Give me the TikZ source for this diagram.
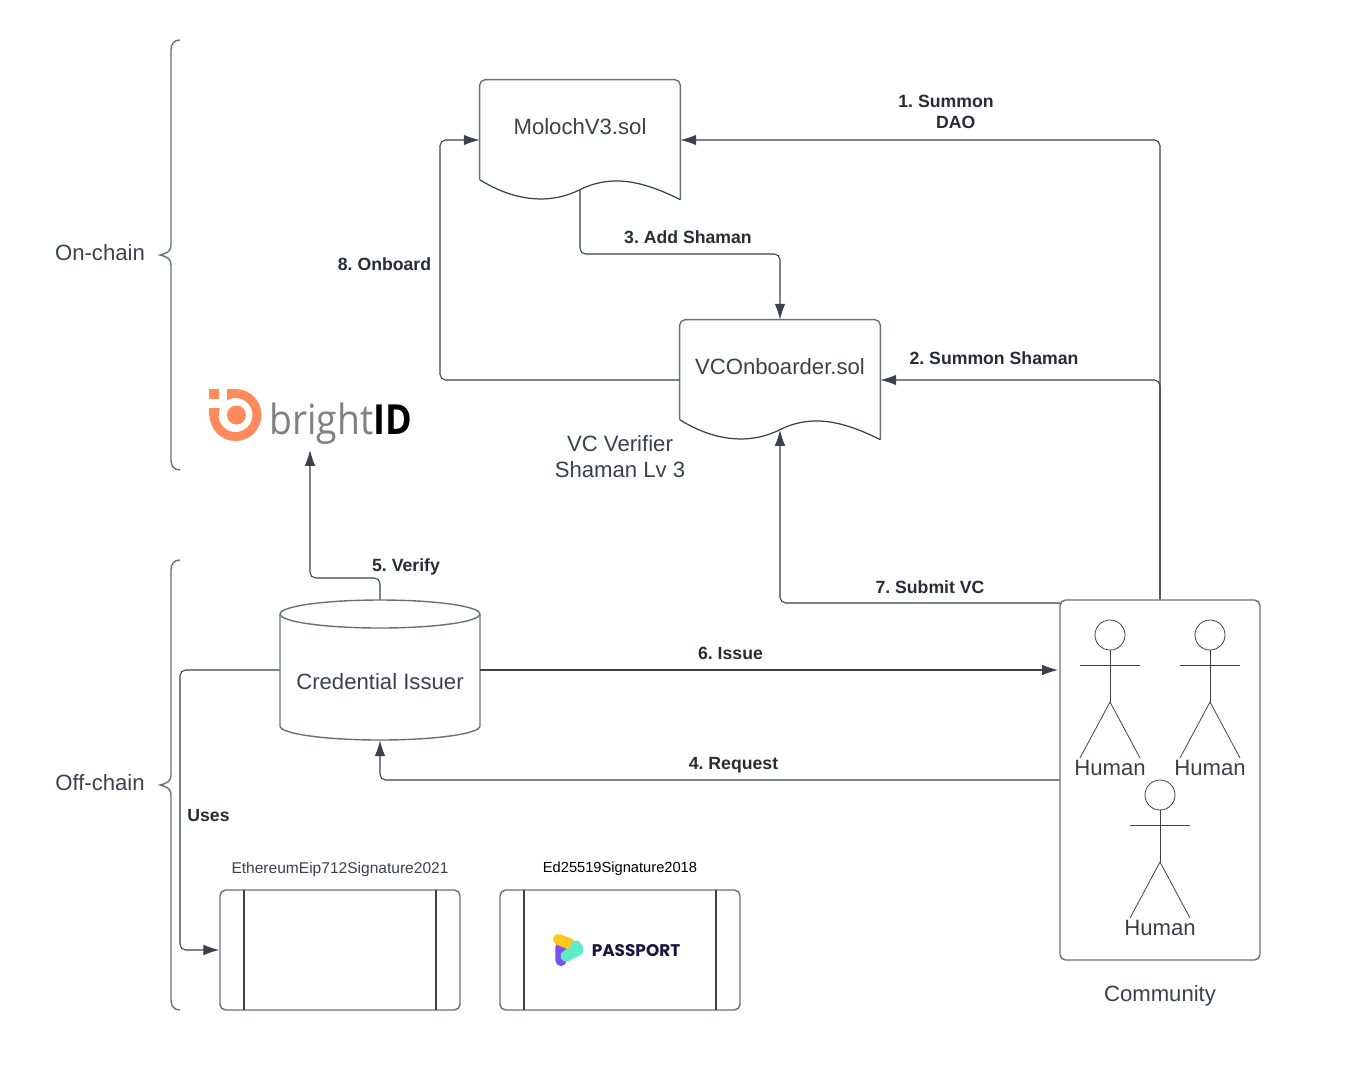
\documentclass[tikz,border=0pt]{standalone}
\usepackage{fontspec}
\setmainfont{Liberation Sans}
\newfontfamily\logofont[FakeStretch=0.9]{Open Sans}
\newfontfamily\logofontb[FakeStretch=0.87]{Open Sans}
\newfontfamily\passfont{Poppins}
\usetikzlibrary{arrows.meta}
\definecolor{ink}{HTML}{3A414A}
\definecolor{edge}{HTML}{6B7078}
\definecolor{dark}{HTML}{282C33}
\definecolor{brightorange}{HTML}{FF8A5E}
\definecolor{passyellow}{HTML}{FFC71E}
\definecolor{passpurple}{HTML}{7A50F0}
\definecolor{passgreen}{HTML}{5FEBC8}
\tikzset{
  box/.style={draw=edge,line width=0.8pt,rounded corners=3.2pt,inner sep=0pt},
  ghost/.style={inner sep=0pt},
  title/.style={inner sep=0pt,text=ink,font=\fontsize{12.6}{14.8}\selectfont,align=center},
  lab/.style={inner sep=0pt,text=dark,font=\fontsize{10.05}{12}\selectfont\bfseries,align=center},
  small/.style={inner sep=0pt,text=ink,font=\fontsize{8.85}{11}\selectfont},
  conn/.style={draw=ink,line width=0.6pt,rounded corners=3.2pt,-{Latex[length=9pt,width=6pt]}},
  plain/.style={draw=ink,line width=0.6pt},
  shapeline/.style={draw=edge,line width=0.8pt},
  stick/.style={draw=black!75,line width=0.45pt},
  passbar/.style={line width=6.4pt,line cap=round,line join=round},
}
\newcommand{\stickman}[3]{% x, y of head centre, name
  \coordinate (#3) at (#1,#2);
  \draw[stick] (#3) circle (15);
  \draw[stick] ([yshift=-15*0.02cm]#3) -- ([yshift=-67*0.02cm]#3);
  \draw[stick] ([xshift=-30*0.02cm,yshift=-30*0.02cm]#3) -- ([xshift=30*0.02cm,yshift=-30*0.02cm]#3);
  \draw[stick] ([xshift=-30*0.02cm,yshift=-123*0.02cm]#3) -- ([yshift=-67*0.02cm]#3) -- ([xshift=30*0.02cm,yshift=-123*0.02cm]#3);
}
\newcommand{\docshape}[1]{% wave document on a ghost node
  \draw[shapeline,rounded corners=3.2pt] ([yshift=-100*0.02cm]#1.north west) --
    (#1.north west) -- (#1.north east) -- ([yshift=-120*0.02cm]#1.north east);
  \draw[draw=ink,line width=0.7pt] ([yshift=-120*0.02cm]#1.north east)
    .. controls ([xshift=-40*0.02cm,yshift=-100*0.02cm]#1.north east) and ([xshift=-70*0.02cm,yshift=-95*0.02cm]#1.north east) .. ([yshift=-110*0.02cm]#1.north)
    .. controls ([xshift=-30*0.02cm,yshift=-125*0.02cm]#1.north) and ([xshift=-65*0.02cm,yshift=-122*0.02cm]#1.north) .. ([yshift=-100*0.02cm]#1.north west);
}
\begin{document}
\frenchspacing
\begin{tikzpicture}[x=0.02cm,y=-0.02cm]
\useasboundingbox (0,0) rectangle (1360,1066);

% braces
\draw[shapeline] (180,40) .. controls (174,40) and (171,44) .. (171,50) -- (171,245)
  .. controls (171,251) and (168,253) .. (160,255)
  .. controls (168,257) and (171,259) .. (171,265) -- (171,460)
  .. controls (171,466) and (174,470) .. (180,470);
\draw[shapeline] (180,560) .. controls (174,560) and (171,564) .. (171,570) -- (171,775)
  .. controls (171,781) and (168,783) .. (160,785)
  .. controls (168,787) and (171,789) .. (171,795) -- (171,1000)
  .. controls (171,1006) and (174,1010) .. (180,1010);
\node[title] (onchain) at (100,252.5) {On-chain};
\node[title] (offchain) at (100,782.5) {Off-chain};

% documents
\node[ghost,minimum width=200*0.02cm,minimum height=120*0.02cm] (moloch) at (580,140) {};
\docshape{moloch}
\node[title] (molochtxt) at (580,126.5) {MolochV3.sol};
\coordinate (molochfoot) at (580,190);
\node[ghost,minimum width=200*0.02cm,minimum height=120*0.02cm] (vc) at (780,380) {};
\docshape{vc}
\node[title] (vctxt) at (780,366.5) {VCOnboarder.sol};
\coordinate (vcfoot) at (780,430);
\node[title] (vcnote) at (620,457) {VC Verifier\\Shaman Lv 3};

% brightID logo
\begin{scope}[even odd rule]
  \fill[brightorange] (235.5,415) circle (26) (235.5,415) circle (17);
\end{scope}
\fill[white] (207,387) rectangle (226.7,408);
\fill[brightorange] (209,389) rectangle (219,399);
\fill[brightorange] (209,408) rectangle (219,416);
\fill[brightorange] (226.7,389) rectangle (237,398);
\fill[brightorange] (236.5,415) circle (9.5);
\node[inner sep=0pt,anchor=base west,font=\logofont\fontsize{23.6}{28}\selectfont] (brightid) at (269,434)
  {\textcolor[HTML]{808080}{bright}\textcolor{black}{\logofontb\bfseries ID}};
\coordinate (brightfoot) at (310,450);

% cylinder
\node[ghost,minimum width=200*0.02cm,minimum height=140*0.02cm] (issuer) at (380,670) {};
\draw[shapeline] (280,614) -- (280,726) arc[start angle=180,end angle=0,x radius=100,y radius=14] -- (480,614);
\draw[shapeline] (380,614) ellipse[x radius=100,y radius=14];
\node[title] (issuertxt) at (380,681.5) {Credential Issuer};

% community
\node[box,minimum width=200*0.02cm,minimum height=360*0.02cm] (community) at (1160,780) {};
\coordinate (communitytop) at (1060,603);
\coordinate (communityin) at (1058,670);
\stickman{1110}{635}{manA}
\stickman{1210}{635}{manB}
\stickman{1160}{795}{manC}
\node[title] (humanA) at (1110,768) {Human};
\node[title] (humanB) at (1210,768) {Human};
\node[title] (humanC) at (1160,928) {Human};
\node[title] (communitytxt) at (1160,995.5) {Community};

% signature boxes
\node[box,minimum width=240*0.02cm,minimum height=120*0.02cm] (sigA) at (340,950) {};
\draw[plain] (244,890) -- (244,1010) (436,890) -- (436,1010);
\node[box,minimum width=240*0.02cm,minimum height=120*0.02cm] (sigB) at (620,950) {};
\draw[plain] (524,890) -- (524,1010) (716,890) -- (716,1010);
\node[small] (sigAtxt) at (340,869) {EthereumEip712Signature2021};
\node[small,text=black,font=\fontsize{8.35}{11}\selectfont] (sigBtxt) at (620,869) {Ed25519Signature2018};

% passport logo
\draw[passbar,color=passpurple] (561,960.5) -- (561,947) -- (566,945);
\draw[passbar,color=passyellow] (558.5,939.5) -- (570,944) -- (572,948);
\draw[passbar,color=passgreen] (566,956) -- (578,950) -- (576,946);
\node[inner sep=0pt,text={rgb,255:red,28;green,20;blue,60},font=\passfont\fontsize{9.6}{11}\selectfont\bfseries] (passport) at (636,950.5) {PASSPORT};

% connectors
\draw[conn] (community.north) -- (1160,140) -- (moloch.east);
\draw[conn] (community.north) -- (1160,380) -- (vc.east);
\draw[conn] (molochfoot) -- (580,254) -- (780,254) -- (vc.north);
\draw[conn] (vc.west) -- (440,380) -- (440,140) -- (moloch.west);
\draw[conn] (communitytop) -- (780,603) -- (vcfoot);
\draw[conn] (issuer.north) -- (380,578) -- (310,578) -- (brightfoot);
\draw[conn] (issuer.east) -- (communityin);
\draw[conn] (community.west) -- (380,780) -- (issuer.south);
\draw[conn] (issuer.west) -- (180,670) -- (180,950) -- (sigA.west);

% labels
\node[lab] (l1) at (946,111.5) {1. Summon\\\hspace*{11pt}DAO};
\node[lab] (l2) at (994,358.5) {2. Summon Shaman};
\node[lab] (l3) at (688,237.5) {3. Add Shaman};
\node[lab] (l4) at (733.5,765) {4. Request};
\node[lab] (l5) at (406,567) {5. Verify};
\node[lab] (l6) at (730.5,653) {6. Issue};
\node[lab] (l7) at (930,587) {7. Submit VC};
\node[lab] (l8) at (384.5,264) {8. Onboard};
\node[lab] (luses) at (208.5,815) {Uses};
\end{tikzpicture}
\end{document}
